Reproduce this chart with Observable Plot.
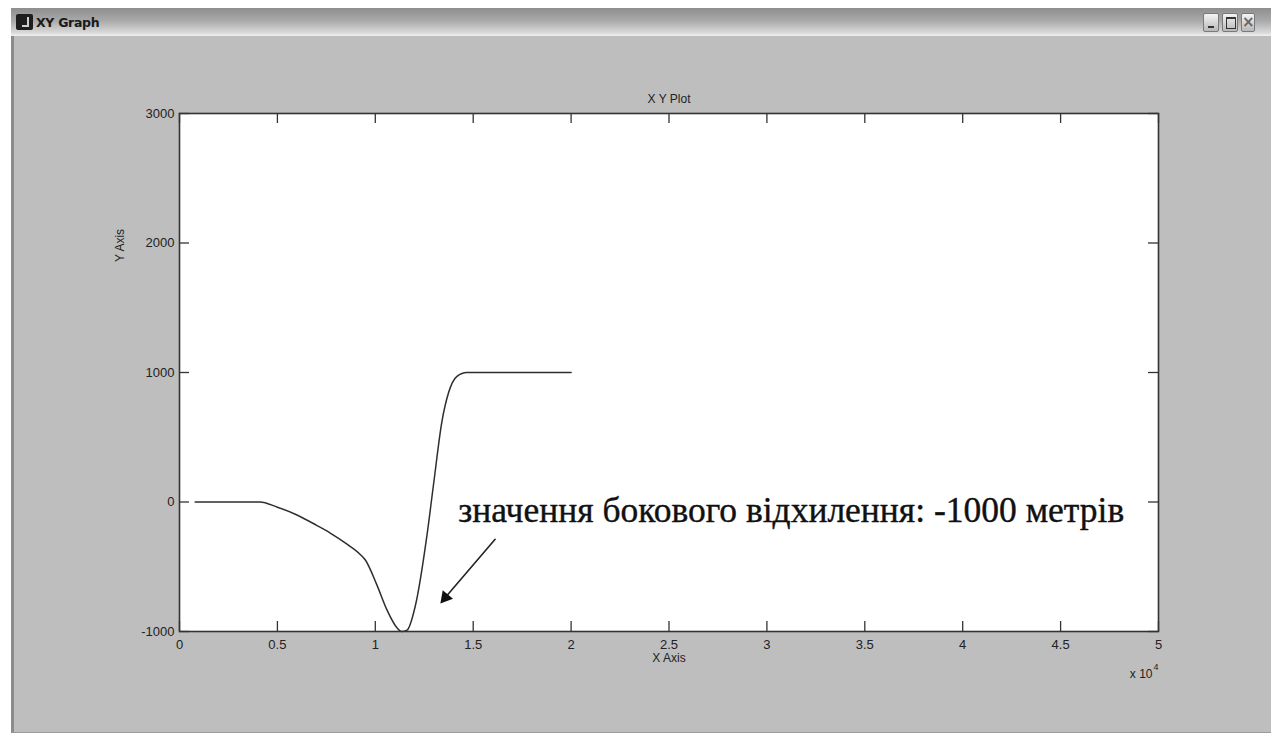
<!DOCTYPE html>
<html>
<head>
<meta charset="utf-8">
<script src="https://cdn.jsdelivr.net/npm/d3@7"></script>
<script src="https://cdn.jsdelivr.net/npm/@observablehq/plot@0.6"></script>
<style>
  html, body { margin: 0; padding: 0; background: #ffffff; }
  #win { position: relative; width: 1271px; height: 736px; overflow: hidden; background: #ffffff; }
  #bg { position: absolute; left: 11px; top: 8px; right: 0; bottom: 3px; background: #bebebe; border-left: 3px solid #8c8c8c; border-bottom: 1px solid #9a9a9a; }
  #titlebar { position: absolute; left: 11px; top: 8px; right: 0; height: 28px;
    background: linear-gradient(to bottom, #8e8e8e 0%, #a9a9a9 45%, #d9d9d9 88%, #f2f2f2 100%);
    font-family: "DejaVu Sans", "Liberation Sans", sans-serif; font-weight: bold; font-size: 12.5px; color: #1a1a1a; }
  #titlebar .icon { position: absolute; left: 5px; top: 6px; width: 17px; height: 16px; background: #1e1e1e; border-radius: 2px; }
  #titlebar .icon:after { content: ""; position: absolute; left: 6px; top: 3px; width: 5px; height: 8px; border: 2px solid #cfcfcf; border-top: none; border-left: none; }
  #titlebar .txt { position: absolute; left: 25px; top: 7px; letter-spacing: -0.3px; }
  .btn { position: absolute; top: 5px; width: 16px; height: 19px; background: linear-gradient(#f4f4f4, #b8b8b8); border: 1px solid #7a7a7a; border-radius: 2px; box-sizing: border-box; }
  #chart { position: absolute; left: 0; top: 38px; }
</style>
</head>
<body>
<div id="win">
  <div id="bg"></div>
  <div id="titlebar">
    <div class="icon"></div>
    <div class="txt">XY Graph</div>
    <div class="btn" style="left:1192px"><div style="position:absolute;left:4px;bottom:3px;width:6px;height:2px;background:#333"></div></div>
    <div class="btn" style="left:1211px"><div style="position:absolute;left:3px;top:3px;width:8px;height:9px;border:1px solid #333;border-top-width:2px"></div></div>
    <div class="btn" style="left:1230px;width:14px;color:#666;font:bold 15px 'DejaVu Sans';line-height:17px;text-align:center">×</div>
  </div>
  <div id="chart"></div>
</div>
<script>
// ---- data (x in metres, y = lateral deviation) ----
const xValues = [800, 2000, 3000, 4100, 5000, 6000, 7000, 7700, 8500, 9230, 9500, 10080, 10600, 11100, 11360, 11620, 12040, 12640, 12980, 13400, 13740, 14170, 14680, 16000, 18000, 20000];
const yValues = [0, 0, 0, 0, -40, -100, -180, -240, -320, -405, -450, -640, -835, -970, -1000, -990, -805, -256, 143, 619, 843, 970, 1000, 1000, 1000, 1000];
const xTicks = [0, 5000, 10000, 15000, 20000, 25000, 30000, 35000, 40000, 45000, 50000];
const xTickLabels = ["0", "0.5", "1", "1.5", "2", "2.5", "3", "3.5", "4", "4.5", "5"];
const yTicks = [-1000, 0, 1000, 2000, 3000];
const yTickLabels = ["-1000", "0", "1000", "2000", "3000"];
const titleText = "X Y Plot";
const xLabel = "X Axis";
const yLabel = "Y Axis";
const annotationText = ["значення бокового відхилення: -1000 метрів"];
const annotationAt = [{x: 14235, y: -70}];
const arrowFrom = [{x: 16120, y: -288}];
const arrowTo = [{x: 13400, y: -768}];

const points = xValues.map((x, i) => ({x, y: yValues[i]}));
const annot = annotationText.map((t, i) => ({t, ...annotationAt[i]}));
const arrows = arrowFrom.map((a, i) => ({x1: a.x, y1: a.y, x2: arrowTo[i].x, y2: arrowTo[i].y}));

const W = 1271, H = 698;
const mL = 179, mR = 113, mT = 75, mB = 105;
const fw = W - mL - mR, fh = H - mT - mB;
const sans = "'Liberation Sans', Arial, sans-serif";

const chart = Plot.plot({
  width: W, height: H,
  marginLeft: mL, marginRight: mR, marginTop: mT, marginBottom: mB,
  style: {background: "transparent", fontFamily: sans, fontSize: "12px", color: "#222"},
  x: {domain: [0, 50000], axis: null},
  y: {domain: [-1000, 3000], axis: null},
  marks: [
    Plot.frame({fill: "white"}),
    // tick labels
    Plot.axisX(xTicks, {anchor: "bottom", tickSize: 0, tickPadding: 8, tickFormat: d => xTickLabels[xTicks.indexOf(d)], fontSize: 13, fill: "#222", label: null}),
    Plot.axisY(yTicks, {anchor: "left", tickSize: 0, tickPadding: 5, tickFormat: d => yTickLabels[yTicks.indexOf(d)], fontSize: 13, fill: "#222", label: null}),
    // inward ticks on all four sides
    Plot.tickX(xTicks, {x: d => d, insetTop: fh - 10, stroke: "#333", strokeWidth: 1.3}),
    Plot.tickX(xTicks, {x: d => d, insetBottom: fh - 10, stroke: "#333", strokeWidth: 1.3}),
    Plot.tickY(yTicks, {y: d => d, insetRight: fw - 10, stroke: "#333", strokeWidth: 1.3}),
    Plot.tickY(yTicks, {y: d => d, insetLeft: fw - 10, stroke: "#333", strokeWidth: 1.3}),
    // data line
    Plot.line(points, {x: "x", y: "y", curve: "monotone-x", stroke: "#2e2e2e", strokeWidth: 1.5}),
    // annotation
    Plot.text(annot, {x: "x", y: "y", text: "t", textAnchor: "start", lineAnchor: "middle", fontFamily: "'Liberation Serif', 'Times New Roman', serif", fontSize: 35.5, fill: "#111", stroke: "#111", strokeWidth: 0.4}),
    Plot.arrow(arrows, {x1: "x1", y1: "y1", x2: "x2", y2: "y2", stroke: "#222", strokeWidth: 1.6, headLength: 0}),
    // filled arrow head at the tip
    Plot.dot(arrows, {x: "x2", y: "y2", symbol: "triangle", r: 5, fill: "#111", stroke: "none", rotate: 220, dx: 3.5, dy: -4}),
    // frame
    Plot.frame({stroke: "#333", strokeWidth: 1.6}),
    // titles
    Plot.text([titleText], {frameAnchor: "top", dy: -19, fontSize: 12, fill: "#222"}),
    Plot.text([xLabel], {frameAnchor: "bottom", dy: 30, fontSize: 12, fill: "#222"}),
    Plot.text([yLabel], {frameAnchor: "left", textAnchor: "middle", rotate: -90, dx: -59, dy: -127, fontSize: 12, fill: "#222"}),
    Plot.text(["x 10"], {frameAnchor: "bottom-right", textAnchor: "end", dx: -6, dy: 46, fontSize: 12, fill: "#222"}),
    Plot.text(["4"], {frameAnchor: "bottom-right", textAnchor: "start", dx: -5, dy: 38, fontSize: 9, fill: "#222"})
  ]
});
document.getElementById("chart").appendChild(chart);
</script>
</body>
</html>
